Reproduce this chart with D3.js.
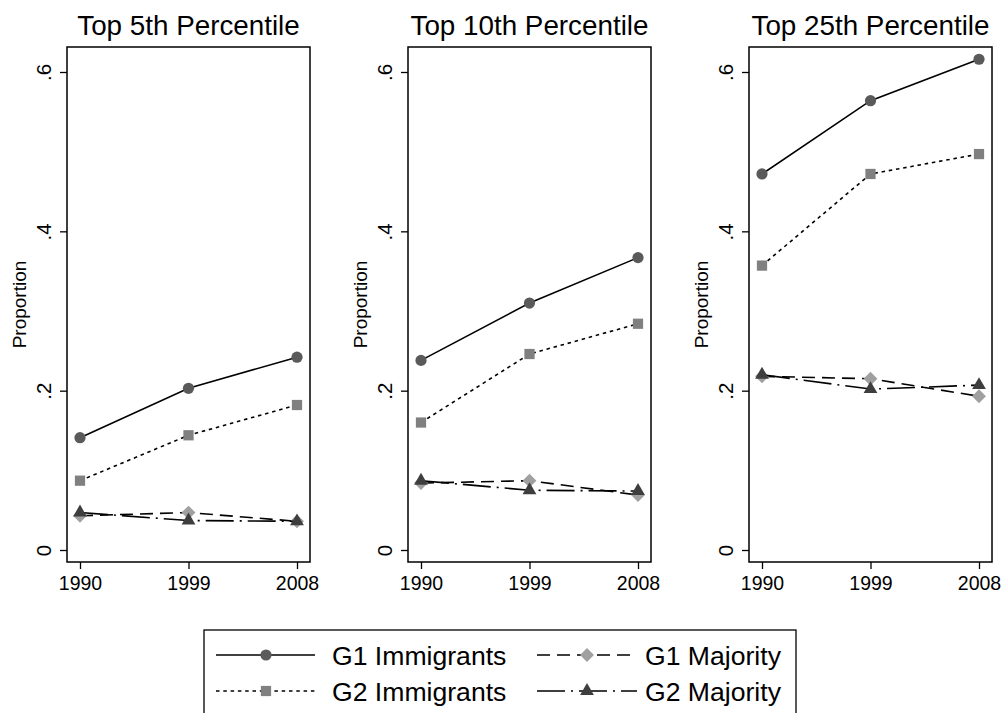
<!DOCTYPE html>
<html>
<head>
<meta charset="utf-8">
<script src="https://cdn.jsdelivr.net/npm/d3@7"></script>
<style>
  html, body { margin: 0; padding: 0; background: #fff; }
  svg { display: block; font-family: "Liberation Sans", Arial, Helvetica, sans-serif; }
</style>
</head>
<body>
<svg id="chart" width="1003" height="713"></svg>
<script>
// ---- data ----
const panelTitles = ["Top 5th Percentile", "Top 10th Percentile", "Top 25th Percentile"];
const years = [1990, 1999, 2008];
const yTickValues = [0, 0.2, 0.4, 0.6];
const yTickLabels = ["0", ".2", ".4", ".6"];
const yAxisTitle = "Proportion";
const seriesNames = ["G1 Immigrants", "G2 Immigrants", "G1 Majority", "G2 Majority"];
// values per panel (5th, 10th, 25th), per year
const g1Immigrants = [[0.141, 0.203, 0.242], [0.238, 0.310, 0.367], [0.472, 0.564, 0.616]];
const g2Immigrants = [[0.087, 0.144, 0.182], [0.160, 0.246, 0.284], [0.357, 0.472, 0.497]];
const g1Majority   = [[0.043, 0.047, 0.036], [0.084, 0.087, 0.069], [0.218, 0.215, 0.193]];
const g2Majority   = [[0.047, 0.037, 0.036], [0.087, 0.075, 0.074], [0.220, 0.202, 0.207]];

const seriesData = [g1Immigrants, g2Immigrants, g1Majority, g2Majority];
const seriesStyle = [
  { dash: null,         marker: "circle",   color: "#5a5a5a" },
  { dash: "3.5,3.8",    marker: "square",   color: "#808080" },
  { dash: "13,7",       marker: "diamond",  color: "#a0a0a0" },
  { dash: "28,6,2,6",   marker: "triangle", color: "#3e3e3e" }
];

const svg = d3.select("#chart");
const panelLefts = [67, 408, 749];
const boxW = 243, boxTop = 47, boxBottom = 562;
const xInset = 13;

function drawMarker(g, type, x, y, color) {
  let sym;
  if (type === "circle") sym = d3.symbol().type(d3.symbolCircle).size(Math.PI * 5.6 * 5.6);
  else if (type === "square") sym = d3.symbol().type(d3.symbolSquare).size(105);
  else if (type === "diamond") sym = d3.symbol().type(d3.symbolSquare).size(96);
  else sym = d3.symbol().type(d3.symbolTriangle).size(82);
  const rot = type === "diamond" ? " rotate(45)" : "";
  g.append("path")
    .attr("d", sym())
    .attr("transform", `translate(${x},${y})${rot}`)
    .attr("fill", color)
    .attr("stroke", "none");
}

const y = d3.scaleLinear().domain([0, 0.6]).range([550, 72]);

panelTitles.forEach((title, p) => {
  const left = panelLefts[p];
  const right = left + boxW;
  const x = d3.scaleLinear().domain([1990, 2008]).range([left + xInset, right - xInset]);
  const g = svg.append("g");

  // title
  g.append("text")
    .attr("x", (left + right) / 2)
    .attr("y", 35)
    .attr("text-anchor", "middle")
    .attr("font-size", 27.8)
    .attr("fill", "#000")
    .text(title);

  // y axis
  const yAxis = d3.axisLeft(y).tickValues(yTickValues)
    .tickFormat((d, i) => yTickLabels[i]).tickSize(7).tickPadding(0);
  const ya = g.append("g").attr("transform", `translate(${left},0)`).call(yAxis);
  ya.select(".domain").remove();
  ya.selectAll(".tick line").attr("stroke", "#000").attr("stroke-width", 1.3);
  ya.selectAll(".tick text")
    .attr("x", null).attr("dy", null)
    .attr("transform", "translate(-16,0) rotate(-90)")
    .attr("text-anchor", "middle")
    .attr("font-size", 20.5)
    .attr("font-family", "Liberation Sans, Arial, sans-serif")
    .attr("fill", "#000");

  // x axis
  const xAxis = d3.axisBottom(x).tickValues(years).tickFormat(d3.format("d"))
    .tickSize(7).tickPadding(0);
  const xa = g.append("g").attr("transform", `translate(0,${boxBottom})`).call(xAxis);
  xa.select(".domain").remove();
  xa.selectAll(".tick line").attr("stroke", "#000").attr("stroke-width", 1.3);
  xa.selectAll(".tick text")
    .attr("y", 27.5).attr("dy", null)
    .attr("font-size", 19.5)
    .attr("font-family", "Liberation Sans, Arial, sans-serif")
    .attr("fill", "#000");

  // y title
  g.append("text")
    .attr("transform", `translate(${left - 41},${(boxTop + boxBottom) / 2}) rotate(-90)`)
    .attr("text-anchor", "middle")
    .attr("font-size", 19)
    .attr("fill", "#000")
    .text(yAxisTitle);

  // plot box
  g.append("rect")
    .attr("x", left).attr("y", boxTop)
    .attr("width", boxW).attr("height", boxBottom - boxTop)
    .attr("fill", "none").attr("stroke", "#000").attr("stroke-width", 1.5);

  // series
  const line = d3.line().x((d, i) => x(years[i])).y(d => y(d));
  seriesData.forEach((sd, s) => {
    const vals = sd[p];
    const st = seriesStyle[s];
    g.append("path")
      .attr("d", line(vals))
      .attr("fill", "none")
      .attr("stroke", "#000")
      .attr("stroke-width", 1.6)
      .attr("stroke-dasharray", st.dash);
    vals.forEach((v, i) => drawMarker(g, st.marker, x(years[i]), y(v), st.color));
  });
});

// legend
const lg = svg.append("g");
lg.append("rect")
  .attr("x", 204).attr("y", 630).attr("width", 592).attr("height", 120)
  .attr("fill", "none").attr("stroke", "#000").attr("stroke-width", 1.3);
const legendPos = [
  { x1: 216, x2: 315, mx: 266, tx: 332, y: 655 },
  { x1: 216, x2: 315, mx: 266, tx: 332, y: 691 },
  { x1: 537, x2: 637, mx: 587, tx: 645, y: 655 },
  { x1: 537, x2: 637, mx: 587, tx: 645, y: 691 }
];
seriesNames.forEach((name, s) => {
  const lp = legendPos[s];
  const st = seriesStyle[s];
  lg.append("line")
    .attr("x1", lp.x1).attr("x2", lp.x2).attr("y1", lp.y).attr("y2", lp.y)
    .attr("stroke", "#000").attr("stroke-width", 1.6)
    .attr("stroke-dasharray", st.dash);
  drawMarker(lg, st.marker, lp.mx, lp.y, st.color);
  lg.append("text")
    .attr("x", lp.tx).attr("y", lp.y + 9.5)
    .attr("font-size", 26.6)
    .attr("fill", "#000")
    .text(name);
});
</script>
</body>
</html>
